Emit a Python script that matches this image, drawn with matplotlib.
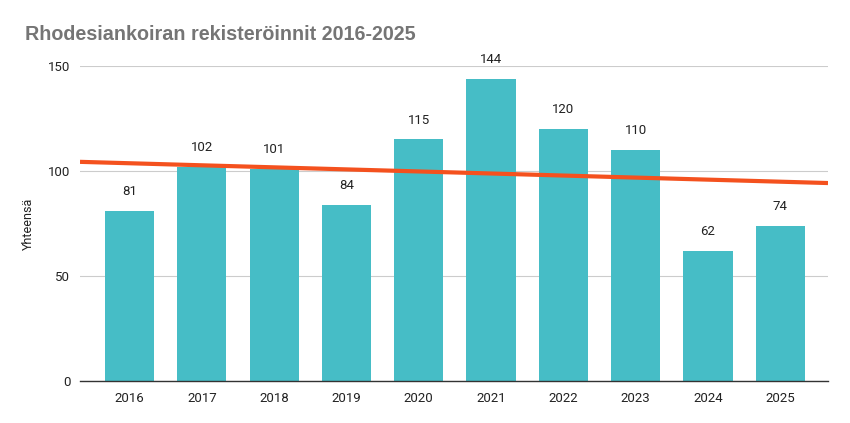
import numpy as np
import matplotlib
matplotlib.use("Agg")
import matplotlib.pyplot as plt

years = ["2016", "2017", "2018", "2019", "2020", "2021", "2022", "2023", "2024", "2025"]
counts = [81, 102, 101, 84, 115, 144, 120, 110, 62, 74]

plt.rcParams['font.family'] = ['Roboto', 'DejaVu Sans']

fig = plt.figure(figsize=(8.5, 4.23), dpi=100)
ax = fig.add_axes([80/850, 1-381/423, 748/850, 315/423])

x = np.arange(len(years))
ax.bar(x, counts, width=0.68, color='#46BDC6', zorder=2)
for xi, v in zip(x, counts):
    ax.text(xi, v + 6, str(v), ha='center', va='bottom', fontsize=9.5,
            color='#222222', clip_on=False)

# lineaarinen trendiviiva koko piirtoalueen yli
xlim = (-0.685, 9.66)
k, b = np.polyfit(x, counts, 1)
tx = np.array(xlim)
ax.plot(tx, k*tx + b, color='#F4511E', lw=3, zorder=3, solid_capstyle='butt')

ax.set_xlim(*xlim)
ax.set_ylim(0, 150)
ax.set_yticks([0, 50, 100, 150])
ax.set_xticks(x)
ax.set_xticklabels(years)
ax.tick_params(axis='both', length=0, labelsize=9.5, labelcolor='#222222')
ax.tick_params(axis='y', pad=7)
ax.tick_params(axis='x', pad=8)
ax.grid(axis='y', color='#CCCCCC', lw=0.8, zorder=0)
for s in ['top', 'right', 'left']:
    ax.spines[s].set_visible(False)
ax.spines['bottom'].set_color('#333333')
ax.spines['bottom'].set_linewidth(1)
ax.spines['bottom'].set_zorder(4)
ax.set_ylabel('Yhteensä', fontsize=9, color='#222222', labelpad=9)

fig.text(25/850, 1-35/423, 'Rhodesiankoiran rekisteröinnit 2016-2025',
         fontsize=14.2, fontweight='bold', color='#757575', va='center',
         family=['Liberation Sans', 'DejaVu Sans'])

fig.savefig('out.png', dpi=100)
